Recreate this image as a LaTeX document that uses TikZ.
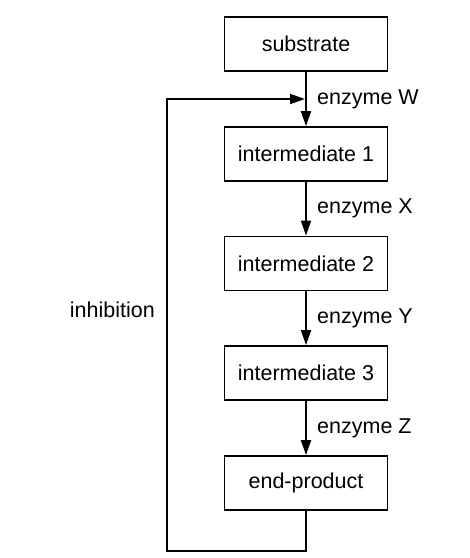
\documentclass[tikz,border=0pt]{standalone}
\usepackage{fontspec}
\setmainfont{Liberation Sans}
\usetikzlibrary{arrows.meta}
\tikzset{
  stepbox/.style={draw, line width=1.8pt, minimum width=163pt, minimum height=54pt, inner sep=0pt},
  flow/.style={draw, line width=1.8pt, -{Triangle[length=15pt,width=10pt]}}
}
\begin{document}
\begin{tikzpicture}[x=1pt,y=1pt,font=\fontsize{21.5}{26}\selectfont]
\useasboundingbox (0,0) rectangle (470,-558);
\node[stepbox] (1) at (306,-44) {substrate};
\node[stepbox] (2) at (306,-154) {intermediate 1};
\node[stepbox] (3) at (306,-263.5) {intermediate 2};
\node[stepbox] (4) at (306,-373) {intermediate 3};
\node[stepbox] (5) at (306,-483) {end-product};
\node[anchor=west, inner sep=0pt] (w) at (317,-99) {enzyme W};
\node[anchor=west, inner sep=0pt] (x) at (317,-208.5) {enzyme X};
\node[anchor=west, inner sep=0pt] (y) at (317,-318) {enzyme Y};
\node[anchor=west, inner sep=0pt] (z) at (317,-428) {enzyme Z};
\node[anchor=east, inner sep=0pt] (inh) at (155,-310) {inhibition};
\coordinate (m) at (306,-99);
\coordinate (c1) at (167,-551);
\path[flow] (1) -- (2);
\path[flow] (2) -- (3);
\path[flow] (3) -- (4);
\path[flow] (4) -- (5);
\path[flow, shorten >=1pt] (5.south) |- (c1) |- (m);
\end{tikzpicture}
\end{document}
